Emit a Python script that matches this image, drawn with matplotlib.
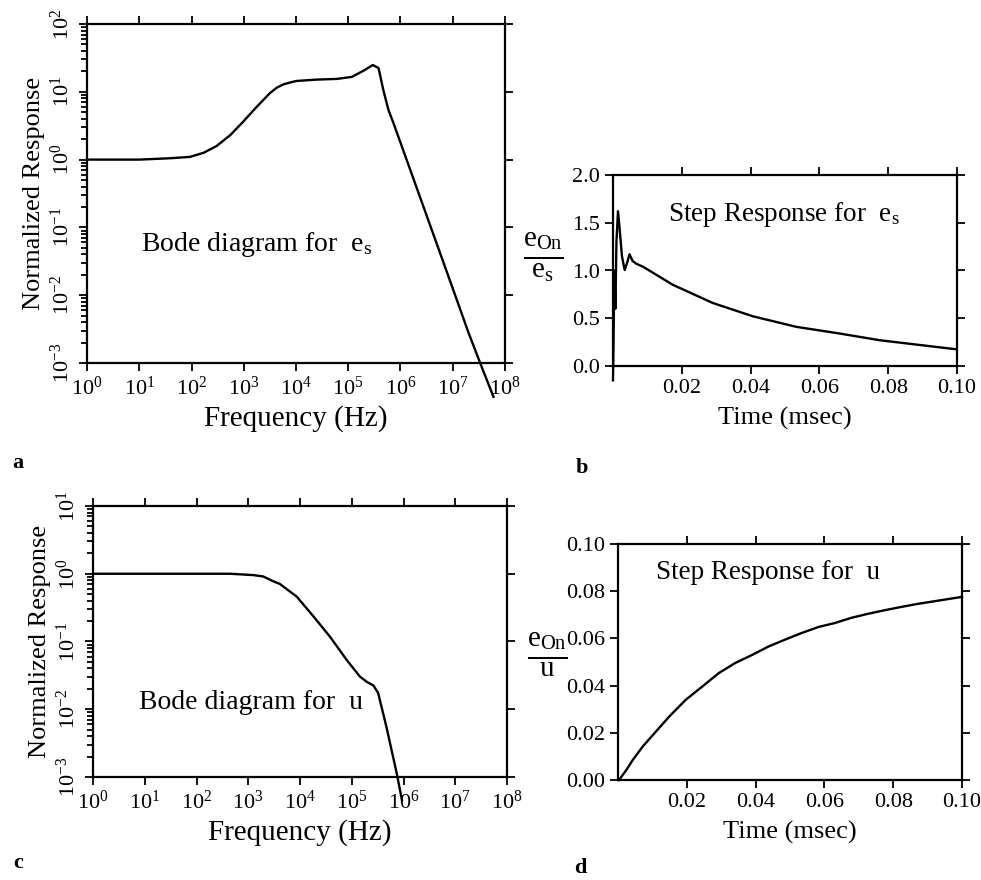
import numpy as np
import matplotlib
matplotlib.use('Agg')
import matplotlib.pyplot as plt

plt.rcParams['font.family'] = ['Liberation Serif', 'DejaVu Serif']
plt.rcParams['mathtext.fontset'] = 'custom'
plt.rcParams['mathtext.rm'] = 'Liberation Serif'
plt.rcParams['mathtext.it'] = 'Liberation Serif'

# a: Bode diagram for e_s (log10 of frequency, log10 of response)
logf_es = [0.0, 1.0, 1.59, 1.97, 2.23, 2.48, 2.74, 2.99, 3.25, 3.50, 3.63, 3.76, 3.9,
           4.01, 4.40, 4.78, 5.07, 5.29, 5.47, 5.58, 5.67, 5.77, 5.86, 6.2, 6.6, 7.0,
           7.3, 7.55, 7.78]
logr_es = [0.0, 0.0, 0.02, 0.04, 0.10, 0.20, 0.36, 0.56, 0.78, 0.98, 1.06, 1.11, 1.14,
           1.16, 1.18, 1.19, 1.22, 1.31, 1.395, 1.35, 1.03, 0.73, 0.55, -0.18, -1.04,
           -1.9, -2.55, -3.05, -3.5]

# c: Bode diagram for u
logf_u = [0.0, 1.0, 2.0, 2.65, 3.1, 3.29, 3.48, 3.61, 3.94, 4.26, 4.58, 4.90, 5.16,
          5.3, 5.42, 5.51, 5.67, 5.87, 5.97]
logr_u = [0.0, 0.0, 0.0, 0.0, -0.02, -0.04, -0.11, -0.15, -0.34, -0.63, -0.93, -1.27,
          -1.52, -1.6, -1.65, -1.76, -2.26, -2.95, -3.34]

# b: step response for e_s
t_es = [0, 0.0002, 0.0004, 0.0007, 0.001, 0.00145, 0.0019, 0.0026, 0.0034, 0.0041,
        0.0048, 0.0057, 0.0068, 0.0087, 0.0174, 0.029, 0.0407, 0.0533, 0.0659,
        0.0775, 0.0892, 0.0998]
step_es = [-0.15, 0.4, 1.0, 0.6, 1.3, 1.62, 1.45, 1.15, 1.005, 1.08, 1.17, 1.1, 1.07,
           1.04, 0.85, 0.66, 0.52, 0.41, 0.34, 0.27, 0.22, 0.175]

# d: step response for u
t_u = [0.0003, 0.0024, 0.0043, 0.0072, 0.0101, 0.0149, 0.0197, 0.0245, 0.0293,
       0.0341, 0.039, 0.0438, 0.0486, 0.0534, 0.0582, 0.063, 0.0678, 0.0726, 0.0774,
       0.0822, 0.087, 0.0918, 0.1]
step_u = [0.0, 0.0042, 0.0085, 0.0142, 0.019, 0.0269, 0.034, 0.0396, 0.0453, 0.0496,
          0.053, 0.0566, 0.0595, 0.0623, 0.0648, 0.0665, 0.0687, 0.0704, 0.0719,
          0.0733, 0.0746, 0.0757, 0.0776]

fig = plt.figure(figsize=(9.81, 8.8), dpi=100)
W, H = 981, 880


def axes_px(l, t, r, b):
    return fig.add_axes([l / W, 1 - b / H, (r - l) / W, (b - t) / H])


def style(ax):
    for s in ax.spines.values():
        s.set_linewidth(1.6)
    ax.tick_params(which='both', direction='out', top=True, right=True,
                   width=1.3, labelsize=16)
    ax.tick_params(which='major', length=6)
    ax.tick_params(which='minor', length=4, top=False, right=False)


def bode(ax, lf, lr, ylo, yhi, title, tx, ty):
    ax.plot(10.0 ** np.array(lf), 10.0 ** np.array(lr), color='black', lw=1.7,
            clip_on=False)
    ax.set_xscale('log')
    ax.set_yscale('log')
    ax.set_xlim(1, 1e8)
    ax.set_ylim(10.0 ** ylo, 10.0 ** yhi)
    ax.set_xticks([10.0 ** k for k in range(9)])
    ax.set_xticklabels([r'$\mathregular{10^{%d}}$' % k for k in range(9)])
    ax.set_yticks([10.0 ** k for k in range(ylo, yhi + 1)])
    ax.set_yticklabels([r'$\mathregular{10^{%d}}$' % k for k in range(ylo, yhi + 1)],
                       rotation=90, va='center')
    style(ax)
    ax.set_xlabel('Frequency (Hz)', fontsize=21, labelpad=4)
    ax.set_ylabel('Normalized Response', fontsize=19, labelpad=4)
    ax.text(tx, ty, title, transform=ax.transAxes, fontsize=20)


# panel a
ax_a = axes_px(87, 24, 505, 363)
bode(ax_a, logf_es, logr_es, -3, 2, r'Bode diagram for  $\mathregular{e_s}$', 0.13, 0.33)

# panel c
ax_c = axes_px(93, 506, 507, 777)
bode(ax_c, logf_u, logr_u, -3, 1, 'Bode diagram for  u', 0.11, 0.25)

# panel b
ax_b = axes_px(613, 175, 957, 366)
ax_b.plot(t_es, step_es, color='black', lw=1.7, clip_on=False)
ax_b.set_xlim(0, 0.1)
ax_b.set_ylim(0, 2.0)
ax_b.set_xticks([0.02, 0.04, 0.06, 0.08, 0.10])
ax_b.set_xticklabels(['0.02', '0.04', '0.06', '0.08', '0.10'])
ax_b.set_yticks([0.0, 0.5, 1.0, 1.5, 2.0])
ax_b.set_yticklabels(['0.0', '0.5', '1.0', '1.5', '2.0'])
style(ax_b)
ax_b.set_xlabel('Time (msec)', fontsize=19, labelpad=6)
ax_b.text(0.16, 0.76, r'Step Response for  $\mathregular{e_s}$', transform=ax_b.transAxes,
          fontsize=19.5)

# panel d
ax_d = axes_px(618, 544, 962, 780)
ax_d.plot(t_u, step_u, color='black', lw=1.7, clip_on=False)
ax_d.set_xlim(0, 0.1)
ax_d.set_ylim(0, 0.1)
ax_d.set_xticks([0.02, 0.04, 0.06, 0.08, 0.10])
ax_d.set_xticklabels(['0.02', '0.04', '0.06', '0.08', '0.10'])
ax_d.set_yticks([0.0, 0.02, 0.04, 0.06, 0.08, 0.10])
ax_d.set_yticklabels(['0.00', '0.02', '0.04', '0.06', '0.08', '0.10'])
style(ax_d)
ax_d.set_xlabel('Time (msec)', fontsize=19, labelpad=6)
ax_d.text(0.11, 0.85, 'Step Response for  u', transform=ax_d.transAxes, fontsize=19.5)

# fraction y labels
fig.text(543 / W, 1 - 257 / H, r'$\mathregular{\frac{e_{On}}{e_s}}$', fontsize=30,
         ha='center', va='center')
fig.text(547 / W, 1 - 655 / H, r'$\mathregular{\frac{e_{On}}{u}}$', fontsize=30,
         ha='center', va='center')

# panel letters
for lab, x, y in [('a', 18, 463), ('b', 582, 468), ('c', 18, 863), ('d', 580, 868)]:
    fig.text(x / W, 1 - y / H, lab, fontsize=16, fontweight='bold',
             ha='center', va='center')

fig.savefig('out.png', dpi=100)
